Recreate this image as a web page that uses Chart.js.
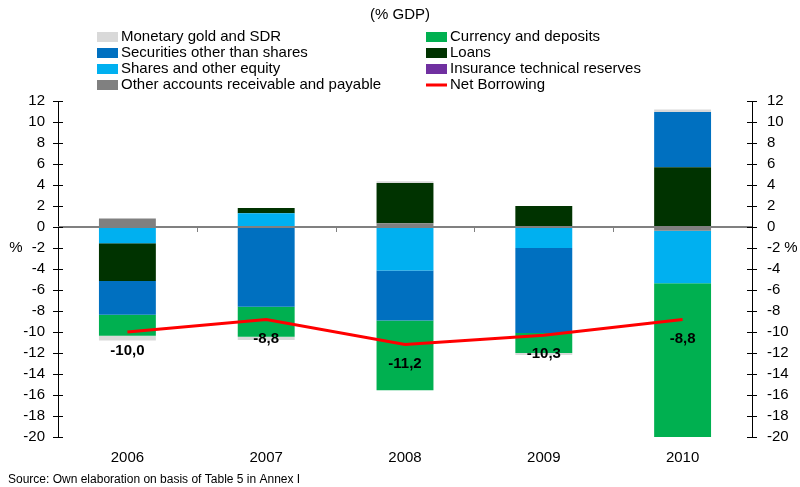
<!DOCTYPE html>
<html>
<head>
<meta charset="utf-8">
<title>Financial account (% GDP)</title>
<script src="https://cdn.jsdelivr.net/npm/chart.js@4.4.1/dist/chart.umd.min.js"></script>
<style>
  html, body { margin: 0; padding: 0; background: #fff; }
</style>
</head>
<body>
<canvas id="chart" width="800" height="487"></canvas>
<script>
// Data (% GDP)
const years = ['2006', '2007', '2008', '2009', '2010'];
const insurance = [0.1, 0, 0, 0, -0.1];
const otherAccounts = [0.7, 0, 0.35, 0, -0.25];
const shares = [-1.55, 1.3, -4.15, -2.0, -5.0];
const loans = [-3.6, 0.5, 3.85, 2.0, 5.7];
const securities = [-3.2, -7.6, -4.75, -8.1, 5.25];
const currency = [-2.0, -2.85, -6.65, -1.9, -14.65];
const monetaryGold = [-0.45, -0.3, 0.15, -0.2, 0.25];
const netBorrowing = [-10.0, -8.8, -11.2, -10.3, -8.8];

// Axis range
const yMin = -20;
const yMax = 12;
const yStep = 2;

// Legend layout (two columns)
const legendLeft = ['Monetary gold and SDR', 'Securities other than shares', 'Shares and other equity', 'Other accounts receivable and payable'];
const legendRight = ['Currency and deposits', 'Loans', 'Insurance technical reserves', 'Net Borrowing'];

const FONT = "'Liberation Sans', Arial, sans-serif";

function bar(label, data, color) {
    return {
        type: 'bar',
        label,
        data,
        backgroundColor: color,
        borderWidth: 0,
        barPercentage: 0.41,
        categoryPercentage: 1.0,
        stack: 'flows'
    };
}

// Custom drawing: legend, axis ticks, zero line, value labels, notes
const extrasPlugin = {
    id: 'extras',
    afterDatasetsDraw(chart) {
        const ctx = chart.ctx;
        const area = chart.chartArea;
        const y = chart.scales.y;
        const x = chart.scales.x;
        const zero = y.getPixelForValue(0);

        ctx.save();
        // zero line over the bars
        ctx.strokeStyle = '#808080';
        ctx.lineWidth = 2;
        ctx.beginPath();
        ctx.moveTo(area.left, zero);
        ctx.lineTo(area.right, zero);
        ctx.stroke();

        // category boundary ticks on the zero line
        ctx.lineWidth = 1;
        for (let i = 1; i < years.length; i++) {
            const bx = Math.round((x.getPixelForValue(i - 1) + x.getPixelForValue(i)) / 2) + 0.5;
            ctx.beginPath();
            ctx.moveTo(bx, zero);
            ctx.lineTo(bx, zero + 5);
            ctx.stroke();
        }

        // cross ticks on both value axes
        ctx.strokeStyle = '#000';
        y.ticks.forEach(t => {
            const ty = Math.round(y.getPixelForValue(t.value)) + 0.5;
            [area.left, area.right].forEach(ax => {
                ctx.beginPath();
                ctx.moveTo(ax - 5, ty);
                ctx.lineTo(ax + 5, ty);
                ctx.stroke();
            });
        });

        // net borrowing value labels
        const lineMeta = chart.getDatasetMeta(0);
        ctx.fillStyle = '#000';
        ctx.font = 'bold 15px ' + FONT;
        ctx.textAlign = 'center';
        ctx.textBaseline = 'middle';
        lineMeta.data.forEach((pt, i) => {
            ctx.fillText(netBorrowing[i].toFixed(1).replace('.', ','), pt.x, pt.y + 19);
        });

        // "%" axis notes
        ctx.font = '15px ' + FONT;
        ctx.fillText('%', 16, 248);
        ctx.fillText('%', 791, 248);

        // source note
        ctx.textAlign = 'left';
        ctx.font = '12px ' + FONT;
        ctx.fillText('Source: Own elaboration on basis of Table 5 in Annex I', 8, 480);

        // legend
        ctx.font = '15px ' + FONT;
        const rowY = [37, 53, 69, 85];
        const drawColumn = (labels, left) => {
            labels.forEach((label, r) => {
                const ds = chart.data.datasets.find(d => d.label === label);
                const cy = rowY[r];
                if (ds.type === 'line') {
                    ctx.fillStyle = ds.borderColor;
                    ctx.fillRect(left, cy - 1.5, 21, 3);
                } else {
                    ctx.fillStyle = ds.backgroundColor;
                    ctx.fillRect(left, cy - 5, 21, 10);
                }
                ctx.fillStyle = '#000';
                ctx.fillText(label, left + 24, cy);
            });
        };
        drawColumn(legendLeft, 97);
        drawColumn(legendRight, 426);
        ctx.restore();
    }
};

const chart = new Chart(document.getElementById('chart'), {
    data: {
        labels: years,
        datasets: [
            {
                type: 'line',
                label: 'Net Borrowing',
                data: netBorrowing,
                borderColor: '#FF0000',
                backgroundColor: '#FF0000',
                borderWidth: 3,
                pointRadius: 0,
                tension: 0,
                fill: false,
                stack: 'net'
            },
            bar('Insurance technical reserves', insurance, '#7030A0'),
            bar('Other accounts receivable and payable', otherAccounts, '#808080'),
            bar('Shares and other equity', shares, '#00B0F0'),
            bar('Loans', loans, '#003300'),
            bar('Securities other than shares', securities, '#0070C0'),
            bar('Currency and deposits', currency, '#00B050'),
            bar('Monetary gold and SDR', monetaryGold, '#D9D9D9')
        ]
    },
    options: {
        responsive: false,
        devicePixelRatio: 1,
        animation: false,
        layout: { padding: 0 },
        plugins: {
            legend: { display: false },
            tooltip: { enabled: false },
            title: {
                display: true,
                text: '(% GDP)',
                color: '#000',
                font: { family: FONT, size: 15, weight: 'normal' },
                padding: { top: 6, bottom: 77 }
            }
        },
        scales: {
            x: {
                stacked: true,
                grid: { display: false, drawTicks: false },
                border: { display: false },
                ticks: { color: '#000', font: { family: FONT, size: 15 }, padding: 12, maxRotation: 0 },
                afterFit(scale) { scale.height = 50; }
            },
            y: {
                stacked: true,
                position: 'left',
                min: yMin,
                max: yMax,
                grid: { display: false, drawTicks: false },
                border: { display: true, color: '#000', width: 1 },
                ticks: { stepSize: yStep, color: '#000', font: { family: FONT, size: 15 }, padding: 13 },
                afterFit(scale) { scale.width = 58; }
            },
            y2: {
                position: 'right',
                min: yMin,
                max: yMax,
                grid: { display: false, drawTicks: false },
                border: { display: true, color: '#000', width: 1 },
                ticks: { stepSize: yStep, color: '#000', font: { family: FONT, size: 15 }, padding: 15 },
                afterFit(scale) { scale.width = 48; }
            }
        }
    },
    plugins: [extrasPlugin]
});
</script>
</body>
</html>
